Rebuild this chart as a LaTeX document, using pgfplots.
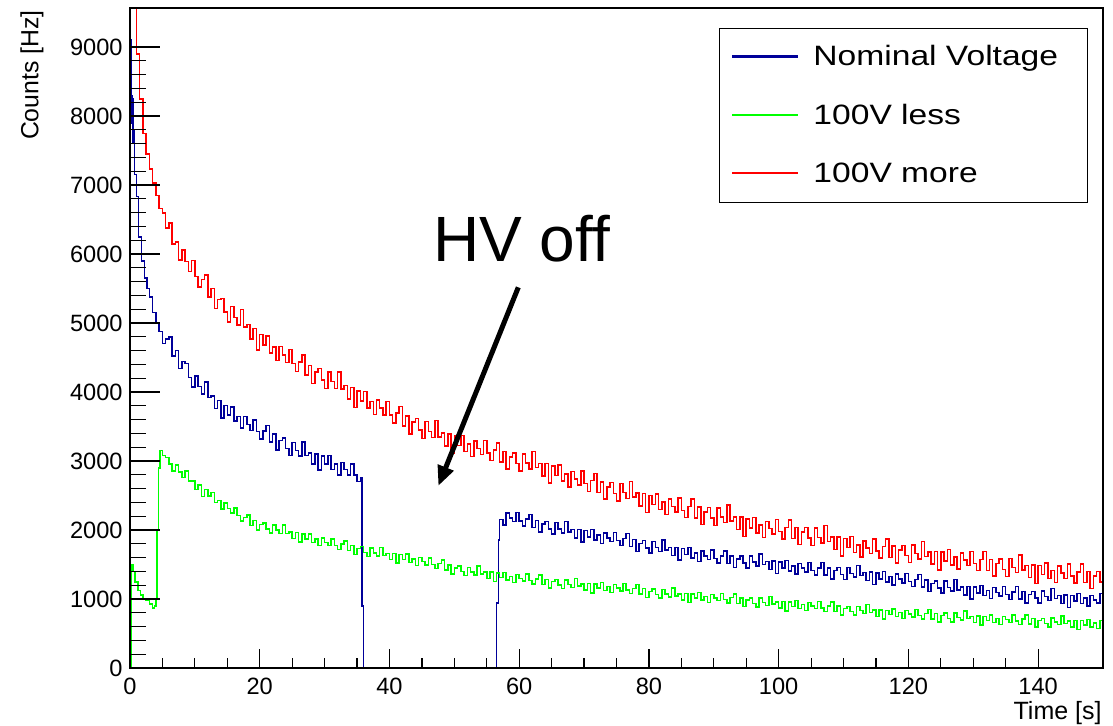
\documentclass[border=0pt]{standalone}
\usepackage{pgfplots}
\pgfplotsset{compat=1.18}
\usepackage{pgfplotstable}
\usepackage{fontspec}
\setmainfont{Liberation Sans}
\newfontfamily\legfont[FakeStretch=1.2]{Liberation Sans}
\usetikzlibrary{arrows.meta}
\definecolor{rootblue}{rgb}{0,0,0.6}
\definecolor{rootgreen}{rgb}{0,1,0}
\definecolor{rootred}{rgb}{1,0,0}

% Nominal Voltage
\pgfplotstableread[row sep=\\]{
x y\\
0 9100\\ 0.15 8300\\ 0.3 7900\\ 0.4 8250\\ 0.5 7600\\ 0.6 7800\\ 0.7 7150\\ 1 6830\\ 1.3 6250\\ 1.8 5900\\ 2.2 5650\\ 2.6 5500\\ 3 5380\\ 3.5 5150\\ 4 4990\\ 4.5 4880\\
5 4700\\ 5.5 4770\\ 6 4800\\ 6.5 4520\\ 7 4600\\ 7.5 4340\\ 8 4440\\ 8.5 4415\\ 9 4210\\ 9.5 4070\\
10 4230\\ 10.5 4080\\ 11 3970\\ 11.5 4145\\ 12 3920\\ 12.5 3940\\ 13 3760\\ 13.5 3880\\ 14 3620\\ 14.5 3805\\
15 3670\\ 15.5 3785\\ 16 3580\\ 16.5 3648\\ 17 3475\\ 17.5 3643\\ 18 3530\\ 18.5 3443\\ 19 3595\\ 19.5 3428\\
20 3320\\ 20.5 3438\\ 21 3515\\ 21.5 3273\\ 22 3390\\ 22.5 3163\\ 23 3297\\ 23.5 3330\\ 24 3183\\ 24.5 3077\\
25 3270\\ 25.5 3152\\ 26 3073\\ 26.5 3275\\ 27 3077\\ 27.5 3118\\ 28 2960\\ 28.5 3103\\ 29 2867\\ 29.5 3070\\
30 2953\\ 30.5 3077\\ 31 2880\\ 31.5 2960\\ 32 2800\\ 32.5 2980\\ 33 2880\\ 33.5 2800\\ 34 2960\\ 34.5 2800\\
35 2700\\ 35.5 2760\\ 35.75 900\\ 36 0\\ 56.5 940\\ 56.8 1855\\ 57 2150\\
57.5 2069\\ 58 2244\\ 58.5 2175\\ 59 2122\\ 59.5 2256\\ 60 2134\\ 60.5 2058\\ 61 2157\\ 61.5 2225\\ 62 2036\\
62.5 2138\\ 63 1968\\ 63.5 2086\\ 64 2124\\ 64.5 2017\\ 65 1943\\ 65.5 2108\\ 66 2018\\ 66.5 1959\\ 67 2124\\
67.5 1970\\ 68 2007\\ 68.5 1887\\ 69 2007\\ 69.5 1823\\ 70 1991\\ 70.5 1902\\ 71 2006\\ 71.5 1854\\ 72 1926\\
72.5 1806\\ 73 1958\\ 73.5 1886\\ 74 1830\\ 74.5 1965\\ 75 1845\\ 75.5 1773\\ 76 1877\\ 76.5 1946\\ 77 1760\\
77.5 1861\\ 78 1691\\ 78.5 1808\\ 79 1845\\ 79.5 1739\\ 80 1664\\ 80.5 1833\\ 81 1745\\ 81.5 1690\\ 82 1858\\
82.5 1707\\ 83 1747\\ 83.5 1628\\ 84 1748\\ 84.5 1563\\ 85 1731\\ 85.5 1642\\ 86 1745\\ 86.5 1592\\ 87 1664\\
87.5 1543\\ 88 1694\\ 88.5 1624\\ 89 1570\\ 89.5 1707\\ 90 1589\\ 90.5 1519\\ 91 1625\\ 91.5 1698\\ 92 1516\\
92.5 1622\\ 93 1457\\ 93.5 1579\\ 94 1622\\ 94.5 1520\\ 95 1450\\ 95.5 1621\\ 96 1535\\ 96.5 1481\\ 97 1652\\
97.5 1502\\ 98 1545\\ 98.5 1427\\ 99 1549\\ 99.5 1368\\ 100 1538\\ 100.5 1452\\ 101 1558\\ 101.5 1407\\ 102 1481\\
102.5 1363\\ 103 1517\\ 103.5 1446\\ 104 1392\\ 104.5 1531\\ 105 1414\\ 105.5 1345\\ 106 1452\\ 106.5 1527\\ 107 1346\\
107.5 1453\\ 108 1288\\ 108.5 1411\\ 109 1454\\ 109.5 1353\\ 110 1284\\ 110.5 1455\\ 111 1370\\ 111.5 1317\\ 112 1488\\
112.5 1339\\ 113 1382\\ 113.5 1265\\ 114 1388\\ 114.5 1207\\ 115 1378\\ 115.5 1293\\ 116 1400\\ 116.5 1250\\ 117 1324\\
117.5 1205\\ 118 1359\\ 118.5 1289\\ 119 1235\\ 119.5 1372\\ 120 1254\\ 120.5 1181\\ 121 1285\\ 121.5 1356\\ 122 1171\\
122.5 1274\\ 123 1106\\ 123.5 1225\\ 124 1264\\ 124.5 1161\\ 125 1089\\ 125.5 1258\\ 126 1170\\ 126.5 1115\\ 127 1283\\
127.5 1132\\ 128 1172\\ 128.5 1056\\ 129 1181\\ 129.5 1001\\ 130 1173\\ 130.5 1089\\ 131 1198\\ 131.5 1050\\ 132 1126\\
132.5 1009\\ 133 1164\\ 133.5 1095\\ 134 1042\\ 134.5 1181\\ 135 1064\\ 135.5 995\\ 136 1102\\ 136.5 1178\\ 137 999\\
137.5 1107\\ 138 943\\ 138.5 1067\\ 139 1112\\ 139.5 1012\\ 140 944\\ 140.5 1116\\ 141 1033\\ 141.5 981\\ 142 1153\\
142.5 1005\\ 143 1050\\ 143.5 934\\ 144 1058\\ 144.5 880\\ 145 1053\\ 145.5 971\\ 146 1080\\ 146.5 934\\ 147 1011\\
147.5 897\\ 148 1054\\ 148.5 989\\ 149 940\\ 149.5 1082\\ 149.9 0\\ 150 0\\
}\bluetab

% 100V less
\pgfplotstableread[row sep=\\]{
x y\\
0 0\\ 0.2 1500\\ 0.5 1400\\ 0.8 1250\\ 1.2 1120\\ 1.6 1060\\ 2 1010\\ 2.5 980\\ 3 930\\ 3.5 870\\ 3.8 900\\ 4 1000\\ 4.2 2000\\ 4.4 2900\\ 4.6 3150\\ 5 3080\\ 5.5 3050\\
6 2956\\ 6.5 2858\\ 7 2940\\ 7.5 2840\\ 8 2764\\ 8.5 2856\\ 9 2708\\ 9.5 2709\\ 10 2590\\ 10.5 2651\\
11 2484\\ 11.5 2586\\ 12 2496\\ 12.5 2545\\ 13 2402\\ 13.5 2427\\ 14 2308\\ 14.5 2393\\ 15 2310\\ 15.5 2244\\
16 2322\\ 16.5 2208\\ 17 2130\\ 17.5 2184\\ 18 2214\\ 18.5 2067\\ 19 2136\\ 19.5 2001\\ 20 2082\\ 20.5 2103\\
21 2016\\ 21.5 1953\\ 22 2070\\ 22.5 1998\\ 23 1949\\ 23.5 2069\\ 24 1948\\ 24.5 1974\\ 25 1880\\ 25.5 1966\\
26 1824\\ 26.5 1944\\ 27 1871\\ 27.5 1943\\ 28 1822\\ 28.5 1870\\ 29 1773\\ 29.5 1881\\ 30 1820\\ 30.5 1774\\
31 1872\\ 31.5 1778\\ 32 1720\\ 32.5 1794\\ 33 1844\\ 33.5 1702\\ 34 1776\\ 34.5 1646\\ 35 1732\\ 35.5 1758\\
36 1676\\ 36.5 1618\\ 37 1740\\ 37.5 1670\\ 38 1624\\ 38.5 1749\\ 39 1633\\ 39.5 1662\\ 40 1570\\ 40.5 1659\\
41 1519\\ 41.5 1644\\ 42 1576\\ 42.5 1650\\ 43 1532\\ 43.5 1582\\ 44 1488\\ 44.5 1598\\ 45 1540\\ 45.5 1494\\
46 1592\\ 46.5 1498\\ 47 1440\\ 47.5 1514\\ 48 1564\\ 48.5 1422\\ 49 1496\\ 49.5 1366\\ 50 1452\\ 50.5 1478\\
51 1396\\ 51.5 1338\\ 52 1460\\ 52.5 1393\\ 53 1351\\ 53.5 1476\\ 54 1361\\ 54.5 1391\\ 55 1300\\ 55.5 1389\\
56 1251\\ 56.5 1376\\ 57 1309\\ 57.5 1387\\ 58 1272\\ 58.5 1327\\ 59 1238\\ 59.5 1353\\ 60 1300\\ 60.5 1258\\
61 1360\\ 61.5 1269\\ 62 1215\\ 62.5 1293\\ 63 1347\\ 63.5 1208\\ 64 1286\\ 64.5 1160\\ 65 1251\\ 65.5 1281\\
66 1204\\ 66.5 1150\\ 67 1276\\ 67.5 1211\\ 68 1169\\ 68.5 1298\\ 69 1187\\ 69.5 1220\\ 70 1133\\ 70.5 1225\\
71 1090\\ 71.5 1219\\ 72 1156\\ 72.5 1236\\ 73 1125\\ 73.5 1181\\ 74 1093\\ 74.5 1209\\ 75 1158\\ 75.5 1118\\
76 1222\\ 76.5 1132\\ 77 1078\\ 77.5 1155\\ 78 1209\\ 78.5 1071\\ 79 1149\\ 79.5 1022\\ 80 1112\\ 80.5 1142\\
81 1065\\ 81.5 1011\\ 82 1138\\ 82.5 1072\\ 83 1030\\ 83.5 1157\\ 84 1043\\ 84.5 1076\\ 85 989\\ 85.5 1082\\
86 947\\ 86.5 1075\\ 87 1012\\ 87.5 1093\\ 88 982\\ 88.5 1038\\ 89 951\\ 89.5 1067\\ 90 1015\\ 90.5 975\\
91 1080\\ 91.5 992\\ 92 940\\ 92.5 1019\\ 93 1074\\ 93.5 937\\ 94 1016\\ 94.5 891\\ 95 982\\ 95.5 1013\\
96 936\\ 96.5 884\\ 97 1013\\ 97.5 949\\ 98 909\\ 98.5 1037\\ 99 926\\ 99.5 958\\ 100 870\\ 100.5 963\\
101 828\\ 101.5 957\\ 102 894\\ 102.5 975\\ 103 864\\ 103.5 921\\ 104 834\\ 104.5 951\\ 105 900\\ 105.5 859\\
106 962\\ 106.5 873\\ 107 820\\ 107.5 899\\ 108 954\\ 108.5 817\\ 109 896\\ 109.5 771\\ 110 862\\ 110.5 894\\
111 818\\ 111.5 766\\ 112 894\\ 112.5 830\\ 113 790\\ 113.5 918\\ 114 806\\ 114.5 838\\ 115 750\\ 115.5 843\\
116 708\\ 116.5 837\\ 117 774\\ 117.5 855\\ 118 744\\ 118.5 801\\ 119 714\\ 119.5 831\\ 120 780\\ 120.5 741\\
121 846\\ 121.5 759\\ 122 708\\ 122.5 789\\ 123 846\\ 123.5 711\\ 124 792\\ 124.5 669\\ 125 762\\ 125.5 795\\
126 720\\ 126.5 669\\ 127 798\\ 127.5 735\\ 128 696\\ 128.5 825\\ 129 714\\ 129.5 747\\ 130 660\\ 130.5 754\\
131 620\\ 131.5 750\\ 132 688\\ 132.5 770\\ 133 660\\ 133.5 718\\ 134 632\\ 134.5 750\\ 135 700\\ 135.5 662\\
136 767\\ 136.5 681\\ 137 630\\ 137.5 712\\ 138 769\\ 138.5 635\\ 139 716\\ 139.5 594\\ 140 687\\ 140.5 721\\
141 647\\ 141.5 597\\ 142 727\\ 142.5 665\\ 143 627\\ 143.5 757\\ 144 647\\ 144.5 681\\ 145 595\\ 145.5 689\\
146 555\\ 146.5 685\\ 147 623\\ 147.5 705\\ 148 595\\ 148.5 654\\ 149 569\\ 149.5 688\\ 149.9 0\\ 150 0\\
}\greentab

% 100V more
\pgfplotstableread[row sep=\\]{
x y\\
0 10500\\ 0.5 9750\\ 1 8900\\ 1.5 8250\\ 2 7750\\ 2.5 7450\\ 3 7230\\ 3.5 7030\\ 4 6850\\ 4.5 6660\\
5 6592\\ 5.5 6377\\ 6 6450\\ 6.5 6144\\ 7 6174\\ 7.5 5911\\ 8 6056\\ 8.5 5890\\ 9 5748\\ 9.5 5904\\
10 5676\\ 10.5 5520\\ 11 5628\\ 11.5 5693\\ 12 5374\\ 12.5 5497\\ 13 5212\\ 13.5 5344\\ 14 5356\\ 14.5 5162\\
15 5016\\ 15.5 5240\\ 16 5080\\ 16.5 4970\\ 17 5197\\ 17.5 4944\\ 18 4978\\ 18.5 4768\\ 19 4917\\ 19.5 4610\\
20 4832\\ 20.5 4680\\ 21 4815\\ 21.5 4566\\ 22 4654\\ 22.5 4454\\ 23 4663\\ 23.5 4535\\ 24 4431\\ 24.5 4616\\
25 4416\\ 25.5 4295\\ 26 4438\\ 26.5 4533\\ 27 4244\\ 27.5 4387\\ 28 4122\\ 28.5 4291\\ 29 4339\\ 29.5 4172\\
30 4053\\ 30.5 4293\\ 31 4150\\ 31.5 4051\\ 32 4289\\ 32.5 4046\\ 33 4091\\ 33.5 3897\\ 34 4062\\ 34.5 3773\\
35 4012\\ 35.5 3867\\ 36 4010\\ 36.5 3769\\ 37 3864\\ 37.5 3671\\ 38 3886\\ 38.5 3765\\ 39 3668\\ 39.5 3859\\
40 3666\\ 40.5 3548\\ 41 3695\\ 41.5 3793\\ 42 3507\\ 42.5 3654\\ 43 3392\\ 43.5 3562\\ 44 3613\\ 44.5 3447\\
45 3329\\ 45.5 3572\\ 46 3430\\ 46.5 3340\\ 47 3585\\ 47.5 3351\\ 48 3405\\ 48.5 3218\\ 49 3392\\ 49.5 3111\\
50 3359\\ 50.5 3222\\ 51 3373\\ 51.5 3141\\ 52 3244\\ 52.5 3063\\ 53 3289\\ 53.5 3180\\ 54 3095\\ 54.5 3297\\
55 3116\\ 55.5 3005\\ 56 3158\\ 56.5 3263\\ 57 2984\\ 57.5 3137\\ 58 2882\\ 58.5 3061\\ 59 3119\\ 59.5 2962\\
60 2853\\ 60.5 3103\\ 61 2970\\ 61.5 2885\\ 62 3135\\ 62.5 2906\\ 63 2965\\ 63.5 2783\\ 64 2962\\ 64.5 2681\\
65 2927\\ 65.5 2790\\ 66 2940\\ 66.5 2707\\ 67 2809\\ 67.5 2624\\ 68 2846\\ 68.5 2736\\ 69 2651\\ 69.5 2853\\
70 2671\\ 70.5 2561\\ 71 2716\\ 71.5 2822\\ 72 2544\\ 72.5 2699\\ 73 2447\\ 73.5 2626\\ 74 2686\\ 74.5 2529\\
75 2421\\ 75.5 2672\\ 76 2540\\ 76.5 2454\\ 77 2705\\ 77.5 2475\\ 78 2533\\ 78.5 2351\\ 79 2530\\ 79.5 2252\\
80 2502\\ 80.5 2370\\ 81 2525\\ 81.5 2297\\ 82 2404\\ 82.5 2224\\ 83 2451\\ 83.5 2343\\ 84 2258\\ 84.5 2464\\
85 2286\\ 85.5 2180\\ 86 2338\\ 86.5 2448\\ 87 2174\\ 87.5 2332\\ 88 2082\\ 88.5 2264\\ 89 2326\\ 89.5 2172\\
90 2066\\ 90.5 2320\\ 91 2190\\ 91.5 2108\\ 92 2362\\ 92.5 2132\\ 93 2191\\ 93.5 2009\\ 94 2187\\ 94.5 1909\\
95 2160\\ 95.5 2026\\ 96 2180\\ 96.5 1957\\ 97 2069\\ 97.5 1894\\ 98 2126\\ 98.5 2023\\ 99 1943\\ 99.5 2152\\
100 1976\\ 100.5 1873\\ 101 2033\\ 101.5 2146\\ 102 1874\\ 102.5 2035\\ 103 1787\\ 103.5 1972\\ 104 2036\\ 104.5 1881\\
105 1774\\ 105.5 2026\\ 106 1895\\ 106.5 1812\\ 107 2065\\ 107.5 1837\\ 108 1898\\ 108.5 1719\\ 109 1900\\ 109.5 1624\\
110 1877\\ 110.5 1746\\ 111 1903\\ 111.5 1675\\ 112 1784\\ 112.5 1610\\ 113 1844\\ 113.5 1741\\ 114 1663\\ 114.5 1873\\
115 1699\\ 115.5 1596\\ 116 1758\\ 116.5 1873\\ 117 1604\\ 117.5 1767\\ 118 1522\\ 118.5 1709\\ 119 1776\\ 119.5 1627\\
120 1526\\ 120.5 1784\\ 121 1658\\ 121.5 1579\\ 122 1837\\ 122.5 1615\\ 123 1681\\ 123.5 1506\\ 124 1692\\ 124.5 1422\\
125 1680\\ 125.5 1553\\ 126 1715\\ 126.5 1493\\ 127 1607\\ 127.5 1432\\ 128 1666\\ 128.5 1563\\ 129 1483\\ 129.5 1692\\
130 1516\\ 130.5 1413\\ 131 1573\\ 131.5 1686\\ 132 1414\\ 132.5 1576\\ 133 1330\\ 133.5 1515\\ 134 1581\\ 134.5 1431\\
135 1329\\ 135.5 1586\\ 136 1460\\ 136.5 1382\\ 137 1640\\ 137.5 1417\\ 138 1483\\ 138.5 1309\\ 139 1495\\ 139.5 1224\\
140 1482\\ 140.5 1357\\ 141 1520\\ 141.5 1299\\ 142 1414\\ 142.5 1241\\ 143 1476\\ 143.5 1375\\ 144 1298\\ 144.5 1508\\
145 1334\\ 145.5 1231\\ 146 1393\\ 146.5 1507\\ 147 1237\\ 147.5 1398\\ 148 1152\\ 148.5 1337\\ 149 1401\\ 149.5 1250\\
149.9 0\\ 150 0\\
}\redtab

\begin{document}
\begin{tikzpicture}
\begin{axis}[
  at={(0pt,0pt)}, anchor=south west,
  scale only axis, width=486.5pt, height=330pt,
  xmin=0, xmax=150, ymin=0, ymax=9565,
  axis on top,
  xtick={0,20,...,140}, ytick={0,1000,...,9000},
  minor x tick num=3, minor y tick num=4,
  tick pos=left, tick align=inside,
  axis line style={line width=0.6pt, black},
  xtick style={line width=0.6pt, black, /pgfplots/major tick length=9.7pt, /pgfplots/minor tick length=5pt},
  ytick style={line width=0.6pt, black, /pgfplots/major tick length=15pt, /pgfplots/minor tick length=8pt},
  /pgf/number format/assume math mode=true,
  /pgf/number format/1000 sep={},
  tick label style={font=\fontsize{11.8}{14}\selectfont},
  xticklabel style={anchor=north, inner sep=0pt, yshift=-5pt},
  yticklabel style={anchor=east, inner sep=0pt, xshift=-3.5pt},
  legend cell align=left,
  legend style={at={(rel axis cs:0.6053,0.970)}, anchor=north west, draw=black, line width=0.6pt, fill=white,
    inner xsep=5.85pt, inner ysep=5.3pt, row sep=11.2pt, column sep=7pt,
    nodes={inner sep=0pt, text width=131pt, align=left, font=\legfont\fontsize{14}{16}\selectfont}},
  legend image code/.code={\path[draw=none,fill=none] (0pt,-9pt) rectangle (33pt,9pt); \draw[#1,line width=1.1pt] (0pt,0.3pt) -- (33pt,0.3pt);},
]
\addplot[const plot mark left, color=rootblue, line width=0.75pt] table[x=x,y=y] {\bluetab};
\addlegendentry{Nominal Voltage}
\addplot[const plot mark left, color=rootgreen, line width=0.75pt] table[x=x,y=y] {\greentab};
\addlegendentry{100V less}
\addplot[const plot mark left, color=rootred, line width=0.75pt] table[x=x,y=y] {\redtab};
\addlegendentry{100V more}
\node[anchor=base west, inner sep=0pt, font=\fontsize{32}{38}\selectfont] at (axis cs:46.7,5888) {HV off};
\draw[line width=2.5pt, -{Triangle[length=10pt,width=8pt]}] (axis cs:59.86,5517) -- (axis cs:47.53,2638);
\end{axis}
\node[rotate=90, anchor=base east, inner sep=0pt, font=\fontsize{12.4}{15}\selectfont] at (-45.75pt,329pt) {Counts [Hz]};
\node[anchor=base east, inner sep=0pt, font=\fontsize{12.5}{15}\selectfont] at (486pt,-25.5pt) {Time [s]};
\pgfresetboundingbox
\path (-65pt,-28.5pt) rectangle (491.5pt,334pt);
\end{tikzpicture}
\end{document}
